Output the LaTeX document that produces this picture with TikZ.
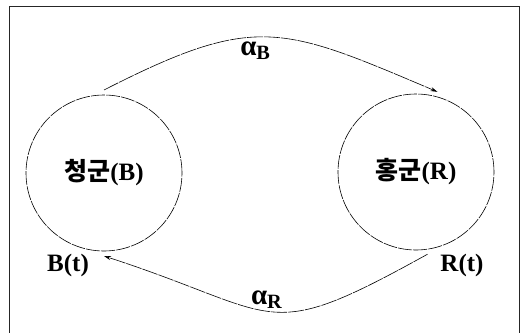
\documentclass[tikz,border=0pt]{standalone}
\usepackage{fontspec}
\setmainfont{Liberation Serif}
\newfontfamily\kofont{Noto Sans CJK KR}
\usepackage{tikz}
\usetikzlibrary{positioning,arrows.meta}

\begin{document}
\begin{tikzpicture}[
    x=1pt, y=-1pt, >={Stealth[length=7pt,width=4pt]},
    font=\fontsize{25}{29}\selectfont\bfseries,
    army/.style={draw, circle, minimum size=156pt, inner sep=0pt,
      outer sep=5pt, line width=0.6pt, dash pattern=on 14pt off 1.2pt},
    flow/.style={->, line width=0.6pt, dash pattern=on 16pt off 1pt},
    state/.style={inner sep=1pt},
    rate/.style={inner sep=2pt, font=\fontsize{29}{31}\selectfont\bfseries},
    frame/.style={line width=1pt, draw=black!85}
]
\useasboundingbox (0,0) rectangle (522,332);
\draw[frame] (9,334) -- (9,6) -- (519,6) -- (519,334);
% the two armies
\node[army] (blue) at (104,173) {{\kofont\bfseries 청군}(B)};
\node[army] (red)  at (416,172) {{\kofont\bfseries 홍군}(R)};
% transitions
\draw[flow] (blue.90) to[out=27, in=157, looseness=1.3]
  node[rate, pos=0.45, below=2pt] (aB) {α\textsubscript{B}} (red.75);
\draw[flow] (red.-82) to[out=-151, in=-18, looseness=1.5]
  node[rate, pos=0.52, above=0pt] (aR) {α\textsubscript{R}} (blue.-90);
% population sizes
\node[state] (Bt) at (68,265) {B(t)};
\node[state] (Rt) at (462,265) {R(t)};
\end{tikzpicture}
\end{document}
